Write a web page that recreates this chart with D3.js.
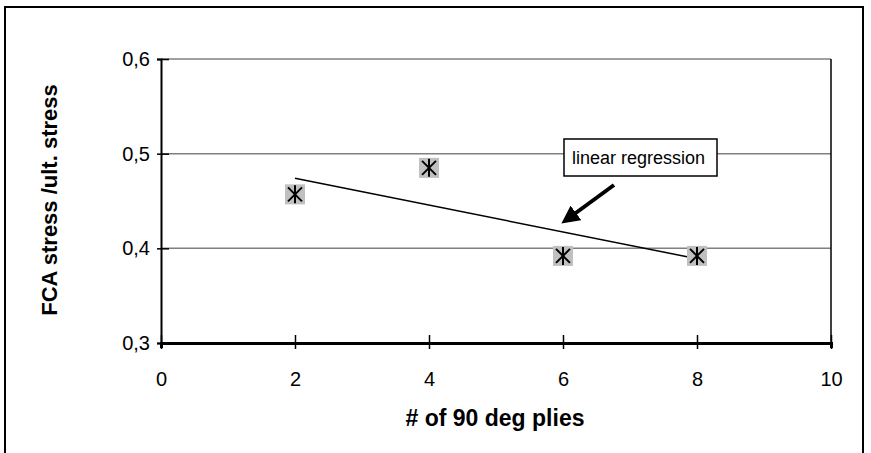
<!DOCTYPE html>
<html>
<head>
<meta charset="utf-8">
<script src="https://cdn.jsdelivr.net/npm/d3@7"></script>
<style>
  body { margin: 0; background: #fff; }
  text { font-family: Arial, "Liberation Sans", sans-serif; }
</style>
</head>
<body>
<div id="vis"></div>
<script>
'use strict';

// data
var plies = [2, 4, 6, 8];
var ratio = [0.457, 0.485, 0.392, 0.392];
var fitX = [2, 8];
var fitY = [0.474, 0.389];
var xTicks = [0, 2, 4, 6, 8, 10];
var yTicks = [0.3, 0.4, 0.5, 0.6];

var width = 871, height = 453;

var svg = d3.select('#vis').append('svg')
    .attr('width', width)
    .attr('height', height);

// outer chart border
svg.append('rect')
    .attr('x', 5).attr('y', 7)
    .attr('width', 858).attr('height', 470)
    .attr('fill', 'none')
    .attr('stroke', '#000')
    .attr('stroke-width', 2);

var x = d3.scaleLinear().domain([0, 10]).range([161, 831]);
var y = d3.scaleLinear().domain([0.3, 0.6]).range([343, 59]);

// gridlines
svg.append('g').selectAll('line')
    .data(yTicks.slice(1))
    .enter().append('line')
    .attr('x1', x(0)).attr('x2', x(10))
    .attr('y1', function (d) { return y(d); })
    .attr('y2', function (d) { return y(d); })
    .attr('stroke', '#808080')
    .attr('stroke-width', 1.5);

// right frame
svg.append('line')
    .attr('x1', x(10)).attr('x2', x(10))
    .attr('y1', y(0.6)).attr('y2', y(0.3))
    .attr('stroke', '#000').attr('stroke-width', 1.5);

// axes
var fmt = function (d) { return d3.format('.1f')(d).replace('.', ','); };

var yAxis = svg.append('g')
    .attr('transform', 'translate(' + x(0) + ',0)')
    .call(d3.axisLeft(y).tickValues(yTicks).tickFormat(fmt).tickSize(4).tickPadding(7));
yAxis.select('.domain').attr('stroke-width', 2);
yAxis.selectAll('.tick line').attr('x2', 8).attr('x1', -4).attr('stroke-width', 1.5);
yAxis.selectAll('text').style('font-size', '20px').attr('fill', '#000');

var xAxis = svg.append('g')
    .attr('transform', 'translate(0,' + y(0.3) + ')')
    .call(d3.axisBottom(x).tickValues(xTicks).tickSize(5).tickPadding(24));
xAxis.select('.domain').attr('stroke-width', 3);
xAxis.selectAll('.tick line').attr('y1', -8).attr('y2', 6).attr('stroke-width', 1.5);
xAxis.selectAll('text').style('font-size', '20px').attr('fill', '#000');

// titles
svg.append('text')
    .attr('x', (x(0) + x(10)) / 2 - 1)
    .attr('y', 426)
    .attr('text-anchor', 'middle')
    .style('font-size', '23px')
    .style('font-weight', 'bold')
    .text('# of 90 deg plies');

svg.append('text')
    .attr('transform', 'translate(57,' + 200 + ') rotate(-90)')
    .attr('text-anchor', 'middle')
    .style('font-size', '22px')
    .style('font-weight', 'bold')
    .text('FCA stress /ult. stress');

// regression line
svg.append('line')
    .attr('x1', x(fitX[0])).attr('y1', y(fitY[0]))
    .attr('x2', x(fitX[1])).attr('y2', y(fitY[1]))
    .attr('stroke', '#000')
    .attr('stroke-width', 1.5);

// markers: grey square with asterisk
var pts = plies.map(function (p, i) { return { x: p, y: ratio[i] }; });
var mk = svg.append('g').selectAll('g')
    .data(pts)
    .enter().append('g')
    .attr('transform', function (d) { return 'translate(' + x(d.x) + ',' + y(d.y) + ')'; });
mk.append('rect')
    .attr('x', -10).attr('y', -10)
    .attr('width', 20).attr('height', 20)
    .attr('fill', '#c0c0c0');
mk.append('path')
    .attr('d', 'M-7,-7L7,7M7,-7L-7,7M0,-9L0,9')
    .attr('stroke', '#000')
    .attr('stroke-width', 2);

// callout box
var box = svg.append('g');
box.append('rect')
    .attr('x', 564).attr('y', 139)
    .attr('width', 153).attr('height', 37)
    .attr('fill', '#fff')
    .attr('stroke', '#000')
    .attr('stroke-width', 1.5);
box.append('text')
    .attr('x', 572).attr('y', 164)
    .style('font-size', '18px')
    .text('linear regression');

// arrow
svg.append('defs').append('marker')
    .attr('id', 'head')
    .attr('viewBox', '0 0 10 10')
    .attr('refX', 2).attr('refY', 5)
    .attr('markerWidth', 4.5).attr('markerHeight', 4.5)
    .attr('orient', 'auto')
    .append('path')
    .attr('d', 'M0,0L10,5L0,10Z')
    .attr('fill', '#000');

svg.append('line')
    .attr('x1', 614).attr('y1', 185)
    .attr('x2', 573).attr('y2', 215)
    .attr('stroke', '#000')
    .attr('stroke-width', 4)
    .attr('marker-end', 'url(#head)');
</script>
</body>
</html>
